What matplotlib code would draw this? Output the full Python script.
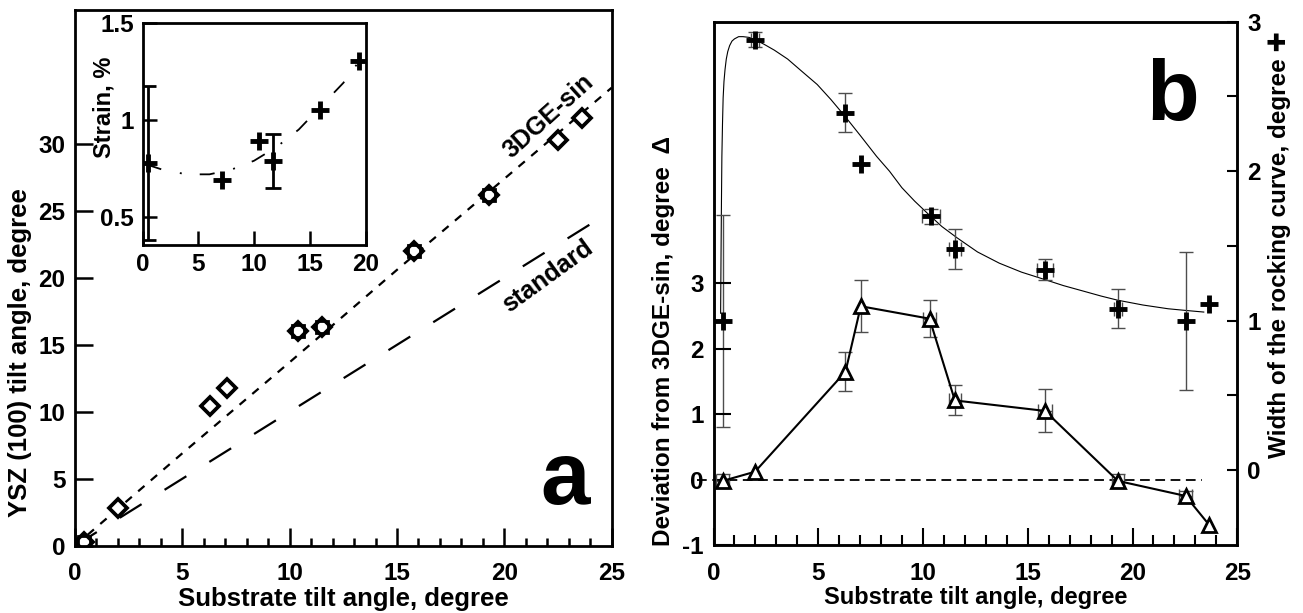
import numpy as np
import matplotlib
matplotlib.use('Agg')
import matplotlib.pyplot as plt

plt.rcParams['font.family'] = ['Liberation Sans', 'DejaVu Sans']
plt.rcParams['font.weight'] = 'bold'
plt.rcParams['axes.labelweight'] = 'bold'
plt.rcParams['axes.unicode_minus'] = False
plt.rcParams['lines.scale_dashes'] = False

# ---------------- data ----------------
# (a) YSZ(100) tilt vs substrate tilt
sub_tilt = [0.4, 2.0, 6.3, 7.1, 10.4, 11.5, 15.8, 19.3, 22.5, 23.6]
ysz_tilt = [0.3, 2.8, 10.4, 11.8, 16.0, 16.3, 22.0, 26.2, 30.3, 31.9]
blob_idx = [0, 4, 5, 6, 7]          # overlapping markers
dge_x = [0, 5, 10, 15, 20, 25]       # 3DGE-sin curve
dge_y = [0, 6.9, 13.7, 20.6, 27.4, 34.2]
std_x = [0, 24.4]                    # standard
std_y = [0, 24.4]

# inset: strain
strain_x = [0.45, 7.1, 10.4, 11.7, 15.9, 19.4]
strain = [0.78, 0.69, 0.89, 0.79, 1.05, 1.30]
strain_err = [0.395, 0, 0, 0.138, 0, 0]
strain_fit_x = [0.4, 2, 4, 6, 8, 10, 12, 14, 16, 18, 19.4]
strain_fit_y = [0.77, 0.74, 0.72, 0.72, 0.745, 0.79, 0.86, 0.95, 1.07, 1.19, 1.30]

# (b) deviation from 3DGE-sin (triangles, left axis)
dev_x = [0.44, 1.98, 6.3, 7.03, 10.31, 11.52, 15.82, 19.3, 22.53, 23.65]
dev = [-0.02, 0.12, 1.65, 2.65, 2.46, 1.21, 1.05, -0.02, -0.25, -0.69]
dev_yerr = [0.1, 0, 0.3, 0.4, 0.28, 0.23, 0.33, 0.1, 0.07, 0]
dev_xerr = [0.3, 0, 0, 0, 0.3, 0.3, 0.35, 0.3, 0.3, 0]

# (b) width of the rocking curve (crosses, right axis)
rc_x = [0.44, 1.98, 6.26, 7.03, 10.37, 11.52, 15.82, 19.3, 22.53, 23.65]
rc_w = [1.0, 2.88, 2.39, 2.05, 1.70, 1.48, 1.34, 1.08, 1.0, 1.11]
rc_yerr = [0.71, 0.05, 0.13, 0, 0.05, 0.135, 0.07, 0.13, 0.46, 0]
rc_xerr = [0, 0.2, 0, 0, 0.42, 0.3, 0.38, 0.2, 0, 0]
rc_fit_x = [0.34, 0.36, 0.38, 0.40, 0.43, 0.46, 0.50, 0.55, 0.61, 0.68, 0.77, 0.88, 1.0,
            1.2, 1.41, 1.7, 1.98, 2.4, 2.9, 3.54, 4.2, 4.95, 5.6, 6.26, 7.0, 7.78, 8.4,
            8.99, 9.6, 10.2, 10.9, 11.62, 12.6, 13.64, 14.7, 15.82, 16.7, 17.68, 18.5,
            19.3, 20.5, 21.7, 22.6, 23.4]
rc_fit_y = [1.05, 1.45, 1.80, 2.10, 2.32, 2.49, 2.60, 2.68, 2.75, 2.80, 2.84, 2.87, 2.885,
            2.90, 2.90, 2.895, 2.88, 2.85, 2.81, 2.75, 2.67, 2.58, 2.48, 2.37, 2.24, 2.10, 2.0,
            1.89, 1.80, 1.72, 1.63, 1.555, 1.46, 1.385, 1.325, 1.275, 1.235, 1.197, 1.165,
            1.137, 1.105, 1.08, 1.068, 1.058]

W, H = 1303, 613
fig = plt.figure(figsize=(W / 100, H / 100), dpi=100)


def box(l, t, r, b):
    # pixel box -> figure fraction
    return [l / W, 1 - b / H, (r - l) / W, (b - t) / H]


TL = 17.5  # tick label size

# ---------------- panel a ----------------
ax = fig.add_axes(box(75, 10, 611.7, 545.7))
ax.plot(dge_x, dge_y, color='k', lw=1.6, ls=(0, (6, 6)))
ax.plot(std_x, std_y, color='k', lw=1.6, ls=(0, (18.5, 19.5)))
ax.plot(sub_tilt, ysz_tilt, 'D', ms=9.5, mfc='white', mec='k', mew=2.7)
ax.plot([sub_tilt[i] for i in blob_idx], [ysz_tilt[i] for i in blob_idx], 's',
        ms=8, mfc='none', mec='k', mew=2)
ax.set_xlim(0, 25)
ax.set_ylim(0, 40)
ax.set_xticks(np.arange(0, 26, 5))
ax.set_xticks(np.arange(0, 26, 1), minor=True)
ax.set_yticks(np.arange(0, 31, 5))
ax.tick_params(which='major', direction='in', length=13, width=1.8, labelsize=TL, pad=7)
ax.tick_params(which='minor', direction='in', length=6, width=1.8)
ax.tick_params(axis='x', which='major', pad=12)
for s in ax.spines.values():
    s.set_linewidth(2)
ax.set_xlabel('Substrate tilt angle, degree', fontsize=18.5)
ax.set_ylabel('YSZ (100) tilt angle, degree', fontsize=18.5)
ax.xaxis.set_label_coords(0.5, -0.077)
ax.yaxis.set_label_coords(-0.080, 0.36)
ax.text(22.05, 32.1, '3DGE-sin', rotation=42, ha='center', va='center', fontsize=18)
ax.text(22.0, 20.1, 'standard', rotation=36, ha='center', va='center', fontsize=18)
ax.text(0.96, 0.077, 'a', transform=ax.transAxes, ha='right', va='baseline', fontsize=64)

# inset
axi = fig.add_axes(box(142.5, 22.5, 365.7, 245))
axi.plot(strain_fit_x, strain_fit_y, color='k', lw=1.3, ls=(0, (10.8, 13.7, 1.4, 13)))
m = [e > 0 for e in strain_err]
axi.errorbar([x for x, k in zip(strain_x, m) if k], [y for y, k in zip(strain, m) if k],
             yerr=[e for e, k in zip(strain_err, m) if k], fmt='none', ecolor='k',
             elinewidth=2, capsize=6, capthick=2)
axi.plot(strain_x, strain, '+', ms=13, mec='k', mew=3.5)
axi.set_xlim(0, 20)
axi.set_ylim(0.357, 1.5)
axi.set_xticks([0, 5, 10, 15, 20])
axi.set_yticks([0.5, 1, 1.5])
axi.set_yticklabels(['0.5', '1', '1.5'])
axi.tick_params(direction='in', length=10, width=1.8, labelsize=TL, pad=6)
for s in axi.spines.values():
    s.set_linewidth(2)
axi.set_ylabel('Strain, %', fontsize=17)
axi.yaxis.set_label_coords(-0.12, 0.618)

# ---------------- panel b ----------------
axb = fig.add_axes(box(713.5, 21.7, 1237.3, 545))
ax2 = axb.twinx()
axb.set_zorder(ax2.get_zorder() + 1)
axb.patch.set_visible(False)

axb.plot([-0.8, 23.3], [0, 0], color='k', lw=1.3, ls=(0, (7, 4)), clip_on=False)
mask = [a > 0 or b > 0 for a, b in zip(dev_yerr, dev_xerr)]
axb.errorbar([v for v, k in zip(dev_x, mask) if k], [v for v, k in zip(dev, mask) if k],
             yerr=[v for v, k in zip(dev_yerr, mask) if k],
             xerr=[v for v, k in zip(dev_xerr, mask) if k],
             fmt='none', ecolor='0.3', elinewidth=1, capsize=5, capthick=1)
axb.plot(dev_x, dev, '-^', color='k', lw=1.5, ms=10, mfc='white', mec='k', mew=2)
axb.set_xlim(0, 25)
axb.set_ylim(-1, 7)
axb.set_xticks(np.arange(0, 26, 5))
axb.set_xticks(np.arange(0, 26, 1), minor=True)
axb.set_yticks([-1, 0, 1, 2, 3])
axb.tick_params(which='major', direction='in', length=12, width=1.5, labelsize=TL, pad=7)
axb.tick_params(which='minor', direction='in', length=7, width=1.5)
axb.tick_params(axis='x', which='major', pad=12)
for s in axb.spines.values():
    s.set_linewidth(1.8)
axb.set_xlabel('Substrate tilt angle, degree', fontsize=17)
axb.set_ylabel('Deviation from 3DGE-sin, degree  \u0394', fontsize=17.5)
axb.xaxis.set_label_coords(0.5, -0.078)
axb.yaxis.set_label_coords(-0.0735, 0.39)
axb.text(0.926, 0.813, 'b', transform=axb.transAxes, ha='right', va='baseline', fontsize=62)

ax2.plot(rc_fit_x, rc_fit_y, color='k', lw=0.8)
mask2 = [a > 0 or b > 0 for a, b in zip(rc_yerr, rc_xerr)]
ax2.errorbar([v for v, k in zip(rc_x, mask2) if k], [v for v, k in zip(rc_w, mask2) if k],
             yerr=[v for v, k in zip(rc_yerr, mask2) if k],
             xerr=[v for v, k in zip(rc_xerr, mask2) if k],
             fmt='none', ecolor='0.3', elinewidth=1, capsize=5, capthick=1)
ax2.plot(rc_x, rc_w, '+', ms=13, mec='k', mew=3.5)
ax2.set_ylim(-0.5, 3)
ax2.set_yticks([0, 1, 2, 3])
ax2.set_yticks([0.5, 1.5, 2.5], minor=True)
ax2.tick_params(axis='y', which='both', direction='in', length=7, width=1.5, labelsize=TL, pad=7)
ax2.set_ylabel('Width of the rocking curve, degree \u271a', fontsize=17.5)
ax2.yaxis.set_label_coords(1.0586, 0.574)
for s in ax2.spines.values():
    s.set_linewidth(1.8)

fig.savefig('out.png', dpi=100)
